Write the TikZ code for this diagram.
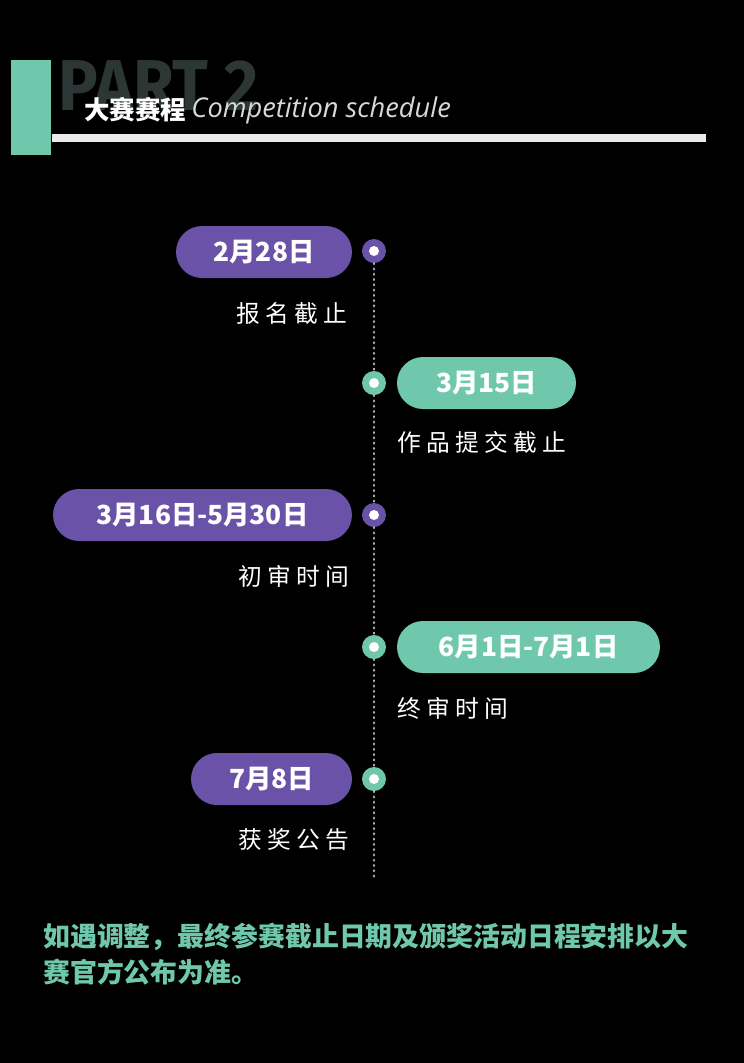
\documentclass[tikz,border=0pt]{standalone}
\usepackage{fontspec}
\setmainfont{Open Sans}
\newfontfamily\cjk{Noto Sans CJK SC}
\newfontfamily\partfont{Fira Sans}
\definecolor{pillpurple}{HTML}{6A52A8}
\definecolor{pillteal}{HTML}{6FC8AC}
\definecolor{partgray}{HTML}{2C3634}
\tikzset{
	pill/.style={rounded corners=0.52cm,minimum height=1.04cm,inner sep=0pt,text=white,font=\cjk\bfseries\fontsize{15}{17}\selectfont},
	stagelabel/.style={text=white,font=\cjk\fontsize{13.5}{15}\selectfont,inner sep=0pt},
	dot/.style={circle,minimum size=0.48cm,inner sep=0pt},
	hole/.style={circle,fill=white,minimum size=0.2cm,inner sep=0pt}
}
\begin{document}
\begin{tikzpicture}[x=0.02cm,y=-0.02cm]
	
	\fill[black] (0,0) rectangle (744,1063);
	\useasboundingbox (0,0) rectangle (744,1063);
	
	\fill[pillteal] (11,60) rectangle (51,155);
	
	\node(part) [anchor=west,inner sep=0pt,text=partgray,font=\partfont\bfseries\fontsize{41}{43}\selectfont,xscale=0.92] at (58,86) {PART 2};
	
	\node(title) [anchor=west,inner sep=0pt,text=white,font=\cjk\bfseries\fontsize{14.5}{16}\selectfont] at (84,110) {大赛赛程};
	
	\node(subtitle) [anchor=west,inner sep=0pt,text=white!85!black,font=\itshape\fontsize{15.5}{17}\selectfont] at (title.east) {\,Competition schedule};
	
	\fill[white!92!black] (52,134) rectangle (706,142);
	
	\node(dotA) [dot,fill=pillpurple] at (374,251) {};
	\node(dotB) [dot,fill=pillteal] at (374,383) {};
	\node(dotC) [dot,fill=pillpurple] at (374,515) {};
	\node(dotD) [dot,fill=pillteal] at (374,647) {};
	\node(dotE) [dot,fill=pillteal] at (374,779) {};
	\coordinate (lineend) at (374,880);
	
	\draw[white!70!black,line width=0.5mm,dash pattern=on 0.4pt off 2.6pt,line cap=round] (dotA) -- (dotB) -- (dotC) -- (dotD) -- (dotE) -- (lineend);
	
	\foreach \d in {dotA,dotB,dotC,dotD,dotE}
		\node[hole] at (\d) {};
	
	\node(pillA) [pill,fill=pillpurple,minimum width=3.52cm] at (264,252) {2月28日};
	\node(labelA) [stagelabel,anchor=east] at (348,313) {报 名 截 止};
	
	\node(pillB) [pill,fill=pillteal,minimum width=3.58cm] at (486.5,383) {3月15日};
	\node(labelB) [stagelabel,anchor=west] at (397,442) {作 品 提 交 截 止};
	
	\node(pillC) [pill,fill=pillpurple,minimum width=5.98cm] at (202.5,515) {3月16日-5月30日};
	\node(labelC) [stagelabel,anchor=east] at (350,576) {初 审 时 间};
	
	\node(pillD) [pill,fill=pillteal,minimum width=5.26cm] at (528.5,647) {6月1日-7月1日};
	\node(labelD) [stagelabel,anchor=west] at (397,708) {终 审 时 间};
	
	\node(pillE) [pill,fill=pillpurple,minimum width=3.22cm] at (271.5,779) {7月8日};
	\node(labelE) [stagelabel,anchor=east] at (350,840) {获 奖 公 告};
	
	\node(noteA) [anchor=west,inner sep=0pt,text=pillteal,font=\cjk\bfseries\fontsize{15.3}{17}\selectfont] at (43,937) {如遇调整，最终参赛截止日期及颁奖活动日程安排以大};
	\node(noteB) [anchor=west,inner sep=0pt,text=pillteal,font=\cjk\bfseries\fontsize{15.3}{17}\selectfont] at (43,972) {赛官方公布为准。};
	
\end{tikzpicture}
\end{document}
